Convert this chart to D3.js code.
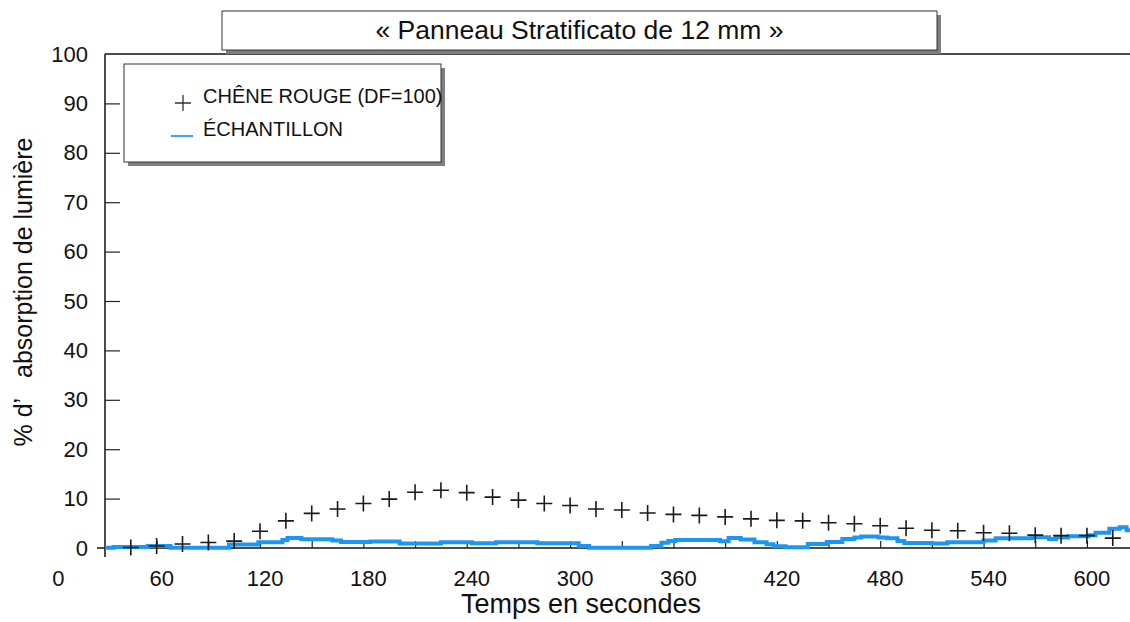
<!DOCTYPE html>
<html>
<head>
<meta charset="utf-8">
<script src="https://cdn.jsdelivr.net/npm/d3@7"></script>
<style>
  body { margin: 0; background: #fff; }
  text { font-family: Arial, "Liberation Sans", sans-serif; fill: #111; }
</style>
</head>
<body>
<div class="chart"></div>
<script>
// red oak reference (DF=100), one "+" every 15 s
var oakTimes = [45, 60, 75, 90, 105, 120, 135, 150, 165, 180, 195, 210, 225, 240, 255, 270, 285, 300, 315, 330,
    345, 360, 375, 390, 405, 420, 435, 450, 465, 480, 495, 510, 525, 540, 555, 570, 585, 600, 615];
var oakValues = [0.1, 0.4, 0.8, 1.1, 1.4, 3.4, 5.5, 7.0, 7.9, 9.0, 9.9, 11.3, 11.7, 11.2, 10.3, 9.7, 9.0, 8.6, 7.9, 7.7,
    7.1, 6.8, 6.6, 6.3, 5.9, 5.6, 5.5, 5.1, 4.9, 4.5, 4.0, 3.6, 3.5, 3.1, 3.0, 2.6, 2.5, 2.5, 2.0];

// sample curve, read as steps (time where the level changes, level)
var sampleTimes = [30, 35, 55, 68, 102, 119, 133, 136, 144, 162, 167, 184, 201, 225, 243, 257, 281, 305, 311,
    347, 353, 357, 361, 387, 392, 399, 407, 414, 418, 425, 438, 449, 458, 465, 469, 479, 484, 490, 494,
    510, 519, 540, 547, 568, 578, 582, 589, 601, 605, 613, 619, 623, 625];
var sampleValues = [0.05, 0.2, 0.4, 0.05, 0.7, 1.15, 1.6, 2.0, 1.75, 1.5, 1.2, 1.3, 0.9, 1.15, 0.95, 1.15, 0.95, 0.4, 0.05,
    0.4, 1.05, 1.4, 1.6, 1.35, 2.0, 1.7, 1.15, 0.75, 0.35, 0.15, 0.8, 1.2, 1.8, 2.15, 2.35, 2.15, 1.95, 1.4, 1.0,
    0.9, 1.15, 1.5, 1.95, 2.2, 1.8, 2.15, 2.4, 2.6, 3.1, 3.9, 4.2, 3.6, 3.6];

var xTickLabels = [0, 60, 120, 180, 240, 300, 360, 420, 480, 540, 600];
var xTickMarks = [60, 90, 120, 150, 180, 210, 240, 270, 300, 330, 360, 390, 420, 450, 480, 510, 540, 570, 600];
var yTicks = [0, 10, 20, 30, 40, 50, 60, 70, 80, 90, 100];

var titleText = "« Panneau Stratificato de 12 mm »";
var legendNames = ["CHÊNE ROUGE (DF=100)", "ÉCHANTILLON"];

var width = 1130, height = 622;
var xStart = 30, xEnd = 625;
var blue = "#1a97f5";

var svg = d3.select(".chart")
    .append("svg")
    .attr("width", width)
    .attr("height", height);

var x = d3.scaleLinear().domain([0, xEnd]).range([53.3, 1130]);
var y = d3.scaleLinear().domain([0, 100]).range([548, 54]);

// frame: top line, y axis (a bit below 0), x axis (a bit left of the y axis)
svg.append("line")
    .attr("x1", x(xStart)).attr("x2", x(xEnd))
    .attr("y1", y(100)).attr("y2", y(100))
    .style("stroke", "#111").style("stroke-width", 1.5);
svg.append("line")
    .attr("x1", x(xStart)).attr("x2", x(xStart))
    .attr("y1", y(100)).attr("y2", y(0) + 9)
    .style("stroke", "#111").style("stroke-width", 1.5);
svg.append("line")
    .attr("x1", x(xStart) - 8).attr("x2", x(xEnd))
    .attr("y1", y(0)).attr("y2", y(0))
    .style("stroke", "#111").style("stroke-width", 1.5);

// y ticks point inward
var yAxis = svg.append("g")
    .attr("transform", "translate(" + x(xStart) + ",0)")
    .call(d3.axisRight(y).tickValues(yTicks.filter(function (d) { return d > 0 && d < 100; }))
        .tickSize(15).tickFormat(""));
yAxis.select(".domain").remove();
yAxis.selectAll("line").style("stroke", "#222").style("stroke-width", 1.2);

var yLabels = svg.append("g")
    .attr("transform", "translate(" + x(xStart) + ",0)")
    .call(d3.axisLeft(y).tickValues(yTicks).tickSize(0).tickPadding(17));
yLabels.select(".domain").remove();
yLabels.selectAll("text")
    .style("font-size", "22px")
    .style("font-family", "Arial, 'Liberation Sans', sans-serif")
    .style("fill", "#111");

// x ticks point inward, labels every 60 s
var xAxis = svg.append("g")
    .attr("transform", "translate(0," + y(0) + ")")
    .call(d3.axisTop(x).tickValues(xTickMarks).tickSize(7).tickFormat(""));
xAxis.select(".domain").remove();
xAxis.selectAll("line").style("stroke", "#222").style("stroke-width", 1.2);

var xLabels = svg.append("g")
    .attr("transform", "translate(0," + y(0) + ")")
    .call(d3.axisBottom(x).tickValues(xTickLabels).tickSize(0).tickPadding(22));
xLabels.select(".domain").remove();
xLabels.selectAll("text")
    .attr("dx", 4.5)
    .style("font-size", "22px")
    .style("font-family", "Arial, 'Liberation Sans', sans-serif")
    .style("fill", "#111");

// axis titles
svg.append("text")
    .attr("x", 581)
    .attr("y", 613)
    .attr("text-anchor", "middle")
    .style("font-size", "27px")
    .text("Temps en secondes");

svg.append("text")
    .attr("transform", "translate(32,292) rotate(-90)")
    .attr("text-anchor", "middle")
    .attr("xml:space", "preserve")
    .style("font-size", "25px")
    .text("% d’   absorption de lumière");

// sample line
var sample = sampleTimes.map(function (t, i) { return [t, sampleValues[i]]; });
var line = d3.line()
    .x(function (d) { return x(d[0]); })
    .y(function (d) { return y(d[1]); })
    .curve(d3.curveStepAfter);

svg.append("path")
    .datum(sample)
    .attr("d", line)
    .style("fill", "none")
    .style("stroke", blue)
    .style("stroke-width", 4);

// red oak "+" markers
var plus = "M-8,0H8M0,-8V8";
svg.selectAll(".oak")
    .data(oakTimes)
    .enter()
    .append("path")
    .attr("class", "oak")
    .attr("transform", function (d, i) {
        return "translate(" + x(d) + "," + y(oakValues[i]) + ")";
    })
    .attr("d", plus)
    .style("fill", "none")
    .style("stroke", "#1a1a1a")
    .style("stroke-width", 1.6);

// title box with shadow
var title = svg.append("g");
title.append("rect")
    .attr("x", 226).attr("y", 15).attr("width", 715).attr("height", 39)
    .style("fill", "#7f7f7f");
title.append("rect")
    .attr("x", 222).attr("y", 11).attr("width", 715).attr("height", 39)
    .style("fill", "#fff").style("stroke", "#333").style("stroke-width", 1);
title.append("text")
    .attr("x", 579.5).attr("y", 39)
    .attr("text-anchor", "middle")
    .style("font-size", "26.5px")
    .text(titleText);

// legend box with shadow
var legend = svg.append("g");
legend.append("rect")
    .attr("x", 128).attr("y", 68).attr("width", 317).attr("height", 98)
    .style("fill", "#7f7f7f");
legend.append("rect")
    .attr("x", 124).attr("y", 64).attr("width", 317).attr("height", 98)
    .style("fill", "#fff").style("stroke", "#333").style("stroke-width", 1);
legend.append("path")
    .attr("transform", "translate(183,103)")
    .attr("d", plus)
    .style("fill", "none")
    .style("stroke", "#333")
    .style("stroke-width", 1.3);
legend.append("line")
    .attr("x1", 171).attr("x2", 193)
    .attr("y1", 136).attr("y2", 136)
    .style("stroke", "#3aa6f2")
    .style("stroke-width", 2);
legend.selectAll(".legend-label")
    .data(legendNames)
    .enter()
    .append("text")
    .attr("class", "legend-label")
    .attr("x", 203)
    .attr("y", function (d, i) { return 103 + i * 33; })
    .style("font-size", "20px")
    .text(function (d) { return d; });
</script>
</body>
</html>
